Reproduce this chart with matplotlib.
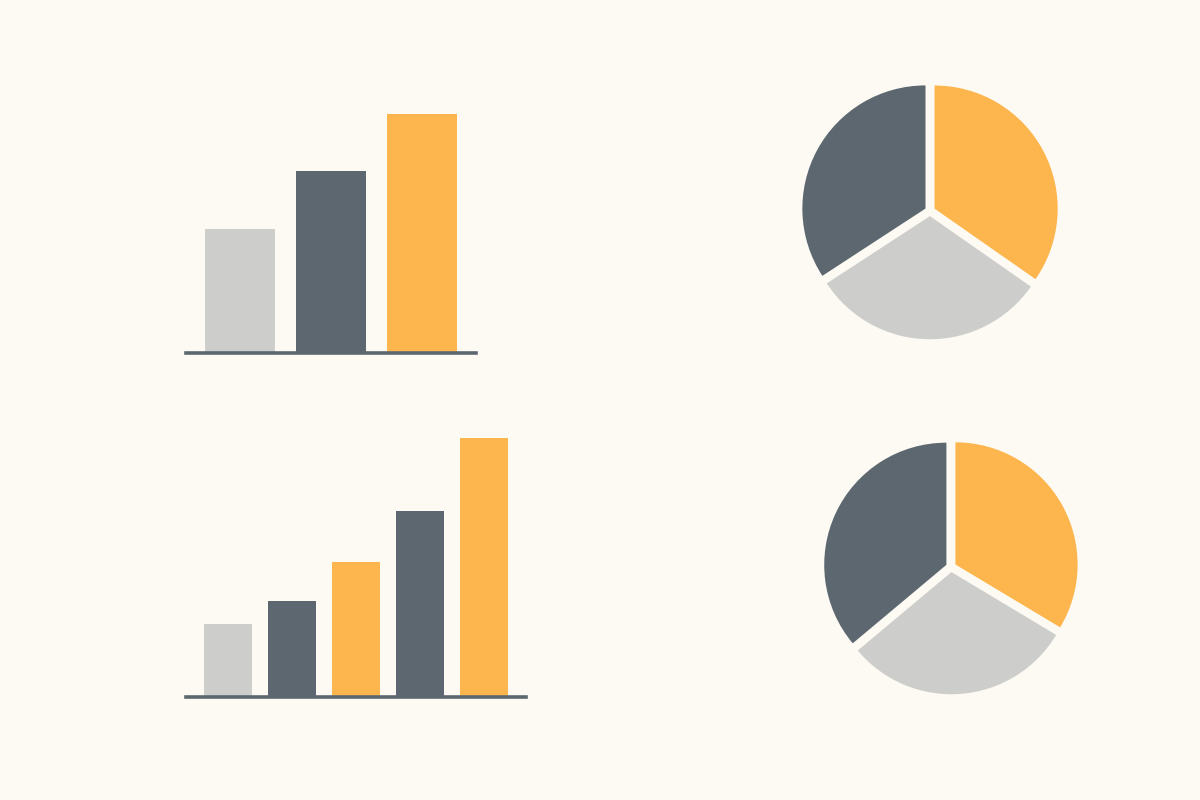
import matplotlib
matplotlib.use("Agg")
import matplotlib.pyplot as plt

BG = "#FDFAF3"
GRAY = "#CDCDCB"
DARK = "#5C6770"
ORANGE = "#FDB54D"

# top-left bar chart
top_bar_values = [52, 76, 100]
top_bar_colors = [GRAY, DARK, ORANGE]

# bottom-left bar chart
bottom_bar_values = [28, 37, 52, 72, 100]
bottom_bar_colors = [GRAY, DARK, ORANGE, DARK, ORANGE]

# pies (share in percent, counter-clockwise from 12 o'clock)
top_pie_values = [34.2, 31.1, 34.7]
bottom_pie_values = [36.1, 30.3, 33.6]
pie_colors = [DARK, GRAY, ORANGE]

W, H = 1200, 800


def px_axes(fig, left, top, width, height):
    # place axes using pixel coords measured from the top-left corner
    return fig.add_axes([left / W, (H - top - height) / H, width / W, height / H])


def draw_bars(ax, values, colors, width, xlim):
    ax.bar(range(len(values)), values, width=width, color=colors)
    ax.axhline(0, color=DARK, linewidth=2.6, clip_on=False)
    ax.set_xlim(*xlim)
    ax.set_ylim(0, max(values))
    ax.axis("off")


def draw_pie(ax, values):
    ax.pie(values, colors=pie_colors, startangle=90, counterclock=True,
           explode=[0.04] * len(values), radius=0.962)
    ax.set_xlim(-1.0, 1.0)
    ax.set_ylim(-1.0, 1.0)
    ax.set_aspect("equal")
    ax.axis("off")


fig = plt.figure(figsize=(12, 8), dpi=100, facecolor=BG)

ax1 = px_axes(fig, 186, 114, 290, 239)
draw_bars(ax1, top_bar_values, top_bar_colors, 0.77, (-0.593, 2.593))

ax2 = px_axes(fig, 186, 438, 340, 259)
draw_bars(ax2, bottom_bar_values, bottom_bar_colors, 0.75, (-0.656, 4.656))

ax3 = px_axes(fig, 802, 83, 256, 256)
draw_pie(ax3, top_pie_values)

ax4 = px_axes(fig, 824, 440, 254, 254)
draw_pie(ax4, bottom_pie_values)

fig.savefig("out.png", dpi=100, facecolor=BG)
